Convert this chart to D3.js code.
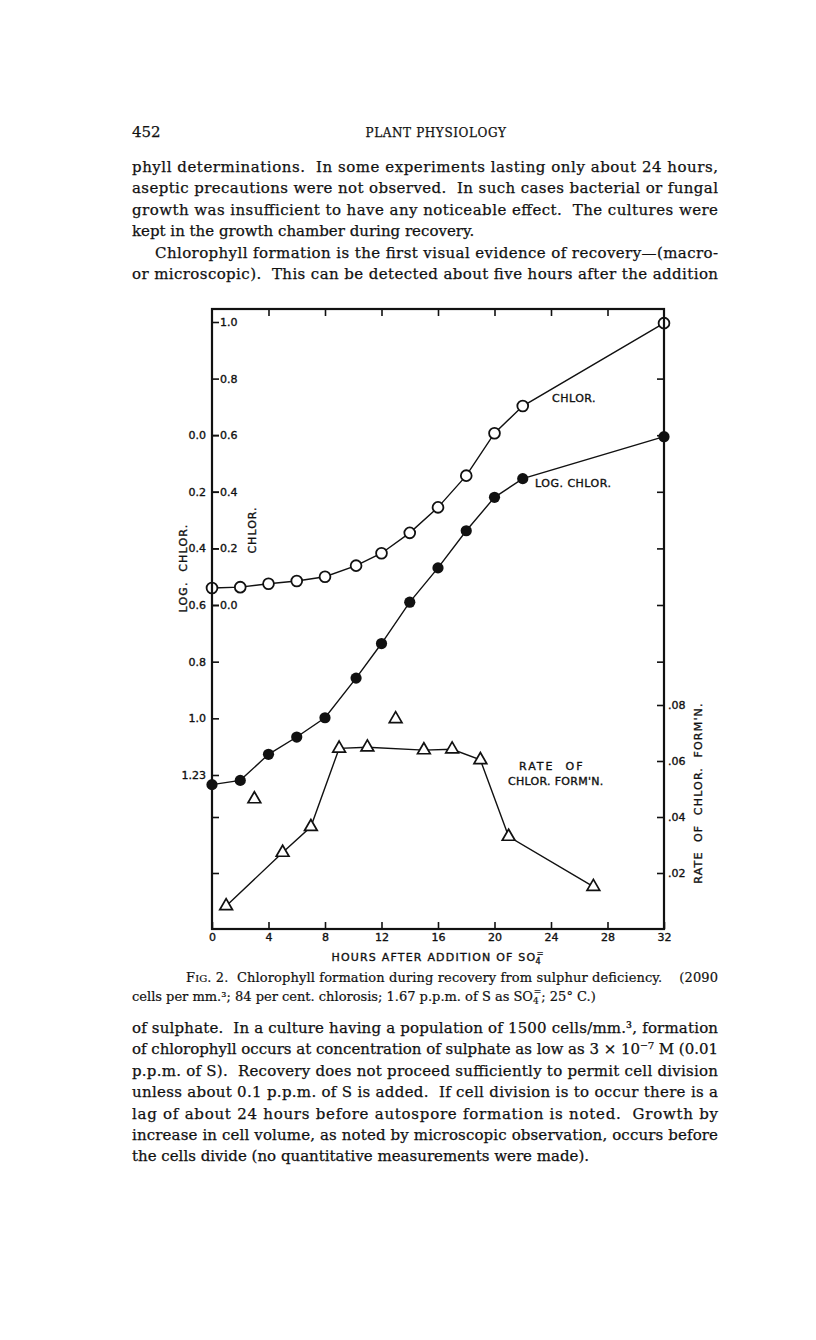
<!DOCTYPE html>
<html>
<head>
<meta charset="utf-8">
<script src="https://cdn.jsdelivr.net/npm/d3@7"></script>
<style>
  body { margin: 0; background: #fff; }
  svg text { fill: #111; }
  .page { font-family: "DejaVu Serif", serif; font-size: 15px; stroke: #111; stroke-width: 0.25px; }
  .cap { font-family: "DejaVu Serif", serif; font-size: 13px; stroke: #111; stroke-width: 0.2px; }
  .lab { font-family: "DejaVu Sans", sans-serif; font-size: 11px; stroke: #111; stroke-width: 0.35px; }
  .tick line { stroke: #111; stroke-width: 1.6; }
  .tick text { font-family: "DejaVu Sans", sans-serif; font-size: 11px; fill: #111; stroke: #111; stroke-width: 0.35px; }
</style>
</head>
<body>
<svg width="816" height="1340"></svg>
<script>
// readings
var hoursChl = [0, 2, 4, 6, 8, 10.2, 12, 14, 16, 18, 20, 22, 32];
var chlor    = [0.060, 0.063, 0.075, 0.085, 0.100, 0.139, 0.183, 0.255, 0.345, 0.457, 0.607, 0.703, 0.996];
var logChlor = [1.234, 1.219, 1.127, 1.066, 0.998, 0.858, 0.736, 0.590, 0.469, 0.338, 0.220, 0.154, 0.006];

var hoursRate = [1, 5, 7, 9, 11, 15, 17, 19, 21, 27];
var rate      = [0.0082, 0.0273, 0.0365, 0.0645, 0.0649, 0.0639, 0.0642, 0.0604, 0.0330, 0.0151];
// two triangles that are not on the line
var hoursOdd = [3, 13];
var rateOdd  = [0.0464, 0.0750];

var hourTicks = [0, 4, 8, 12, 16, 20, 24, 28, 32];
var chlTicks  = [0, 0.2, 0.4, 0.6, 0.8, 1.0];
var chlLabels = ["0.0", "0.2", "0.4", "0.6", "0.8", "1.0"];
var logTicks  = [0, 0.2, 0.4, 0.6, 0.8, 1.0, 1.2];
var logLabels = ["0.0", "0.2", "0.4", "0.6", "0.8", "1.0", "1.23"];
var rateTicks  = [0.02, 0.04, 0.06, 0.08];
var rateLabels = [".02", ".04", ".06", ".08"];

var topLines = [
  { t: "phyll determinations.  In some experiments lasting only about 24 hours,", j: true },
  { t: "aseptic precautions were not observed.  In such cases bacterial or fungal", j: true },
  { t: "growth was insufficient to have any noticeable effect.  The cultures were", j: true },
  { t: "kept in the growth chamber during recovery.", j: false },
  { t: "Chlorophyll formation is the first visual evidence of recovery—(macro-", j: true, ind: 23 },
  { t: "or microscopic).  This can be detected about five hours after the addition", j: true }
];
var bottomLines = [
  { t: "of sulphate.  In a culture having a population of 1500 cells/mm.³, formation", j: true },
  { t: "of chlorophyll occurs at concentration of sulphate as low as 3 × 10⁻⁷ M (0.01", j: true },
  { t: "p.p.m. of S).  Recovery does not proceed sufficiently to permit cell division", j: true },
  { t: "unless about 0.1 p.p.m. of S is added.  If cell division is to occur there is a", j: true },
  { t: "lag of about 24 hours before autospore formation is noted.  Growth by", j: true },
  { t: "increase in cell volume, as noted by microscopic observation, occurs before", j: true },
  { t: "the cells divide (no quantitative measurements were made).", j: false }
];

var svg = d3.select("svg");
var L = 132, R = 718;

// page head
svg.append("text").attr("class", "page").attr("x", L).attr("y", 137).text("452");
svg.append("text").attr("class", "page").attr("x", 436).attr("y", 137)
    .attr("text-anchor", "middle").style("font-size", "12px").style("letter-spacing", "0.6px")
    .text("PLANT PHYSIOLOGY");

function writeLines(lines, y0) {
  lines.forEach(function(d, i) {
    var x0 = L + (d.ind || 0);
    var t = svg.append("text").attr("class", "page")
        .attr("x", x0).attr("y", y0 + i * 21.4)
        .style("white-space", "pre").text(d.t);
    if (d.j) {
      t.attr("textLength", R - x0).attr("lengthAdjust", "spacing");
    }
  });
}
writeLines(topLines, 172);
writeLines(bottomLines, 1033);

// chart scales
var x = d3.scaleLinear().domain([0, 32]).range([212, 664]);
var yChl = d3.scaleLinear().domain([0, 1]).range([605, 322]);
var yLog = d3.scaleLinear().domain([0, 1.2]).range([435, 775]);
var yRate = d3.scaleLinear().domain([0, 0.08]).range([929, 705]);
var frameTop = 309, frameBot = 929, frameL = x(0), frameR = x(32);

function clean(g) { g.select(".domain").remove(); }

// bottom & top hour ticks
svg.append("g").attr("transform", "translate(0," + frameBot + ")")
    .call(d3.axisBottom(x).tickValues(hourTicks).tickSizeInner(-7).tickSizeOuter(0).tickPadding(4))
    .call(clean);
svg.append("g").attr("transform", "translate(0," + frameTop + ")")
    .call(d3.axisTop(x).tickValues(hourTicks.slice(1, -1)).tickSizeInner(-7).tickSizeOuter(0).tickFormat(""))
    .call(clean);

// left: chlor (inside) and log chlor (outside)
svg.append("g").attr("transform", "translate(" + frameL + ",0)")
    .call(d3.axisRight(yChl).tickValues(chlTicks).tickSizeInner(7).tickSizeOuter(0).tickPadding(1)
      .tickFormat(function(d, i) { return chlLabels[i]; }))
    .call(clean);
svg.append("g").attr("transform", "translate(" + frameL + ",0)")
    .call(d3.axisLeft(yLog).tickValues(logTicks).tickSizeInner(-7).tickSizeOuter(0).tickPadding(6)
      .tickFormat(function(d, i) { return logLabels[i]; }))
    .call(clean);
svg.append("g").attr("transform", "translate(" + frameL + ",0)")
    .call(d3.axisRight(yRate).tickValues([0.02, 0.04]).tickSizeInner(7).tickSizeOuter(0).tickFormat(""))
    .call(clean);

// right: rate of formation
svg.append("g").attr("transform", "translate(" + frameR + ",0)")
    .call(d3.axisRight(yRate).tickValues(rateTicks).tickSizeInner(-7).tickSizeOuter(0).tickPadding(4)
      .tickFormat(function(d, i) { return rateLabels[i]; }))
    .call(clean);
svg.append("g").attr("transform", "translate(" + frameR + ",0)")
    .call(d3.axisLeft(yChl).tickValues(chlTicks.slice(0, 5)).tickSizeInner(7).tickSizeOuter(0).tickFormat(""))
    .call(clean);
svg.append("g").attr("transform", "translate(" + frameR + ",0)")
    .call(d3.axisLeft(yLog).tickValues([0.8]).tickSizeInner(7).tickSizeOuter(0).tickFormat(""))
    .call(clean);

// lines
var chlPts = hoursChl.map(function(h, i) { return [x(h), yChl(chlor[i])]; });
var logPts = hoursChl.map(function(h, i) { return [x(h), yLog(logChlor[i])]; });
var ratePts = hoursRate.map(function(h, i) { return [x(h), yRate(rate[i])]; });
var line = d3.line();

[chlPts, logPts, ratePts].forEach(function(p) {
  svg.append("path").attr("d", line(p))
      .attr("fill", "none").attr("stroke", "#111").attr("stroke-width", 1.4);
});

// markers
svg.selectAll(".open").data(chlPts).enter().append("circle")
    .attr("cx", function(d) { return d[0]; }).attr("cy", function(d) { return d[1]; })
    .attr("r", 5.4).attr("fill", "#fff").attr("stroke", "#111").attr("stroke-width", 1.8);
svg.selectAll(".full").data(logPts).enter().append("circle")
    .attr("cx", function(d) { return d[0]; }).attr("cy", function(d) { return d[1]; })
    .attr("r", 5.6).attr("fill", "#111");

var tri = d3.symbol().type(d3.symbolTriangle).size(70);
var oddPts = hoursOdd.map(function(h, i) { return [x(h), yRate(rateOdd[i])]; });
svg.selectAll(".tri").data(ratePts.concat(oddPts)).enter().append("path")
    .attr("d", tri)
    .attr("transform", function(d) { return "translate(" + d[0] + "," + d[1] + ")"; })
    .attr("fill", "#fff").attr("stroke", "#111").attr("stroke-width", 1.7);

// frame
svg.append("rect").attr("x", frameL).attr("y", frameTop)
    .attr("width", frameR - frameL).attr("height", frameBot - frameTop)
    .attr("fill", "none").attr("stroke", "#111").attr("stroke-width", 2.2);

// labels inside the plot
function lab(txt, px, py, opts) {
  var t = svg.append("text").attr("class", "lab").attr("x", px).attr("y", py).text(txt);
  if (opts && opts.ls) t.style("letter-spacing", opts.ls + "px");
  if (opts && opts.rot) t.attr("text-anchor", "middle")
      .attr("transform", "rotate(-90," + px + "," + py + ")");
  return t;
}
lab("CHLOR.", 552, 402, { ls: 0.5 });
lab("LOG. CHLOR.", 535, 487, { ls: 0.5 });
lab("RATE  OF", 519, 770, { ls: 2 }).style("white-space", "pre");
lab("CHLOR. FORM'N.", 508, 785, { ls: 0.3 });

lab("LOG.  CHLOR.", 187, 568, { ls: 1.2, rot: true }).style("white-space", "pre");
lab("CHLOR.", 256, 530, { ls: 1, rot: true });
lab("RATE  OF  CHLOR.  FORM'N.", 702, 793, { ls: 1.2, rot: true }).style("white-space", "pre");

// x axis title
var xt = svg.append("text").attr("class", "lab").attr("x", 438).attr("y", 961)
    .attr("text-anchor", "middle").style("letter-spacing", "1.2px");
xt.append("tspan").text("HOURS AFTER ADDITION OF SO");
xt.append("tspan").attr("dx", -1).attr("dy", 3).style("font-size", "8px").text("4");
xt.append("tspan").attr("dx", -5).attr("dy", -8).style("font-size", "8px").text("=");

// caption
var c1 = svg.append("text").attr("class", "cap").attr("x", 186).attr("y", 982)
    .attr("textLength", R - 186).attr("lengthAdjust", "spacing")
    .style("white-space", "pre");
c1.append("tspan").text("F");
c1.append("tspan").style("font-size", "10px").text("IG");
c1.append("tspan").text(". 2.  Chlorophyll formation during recovery from sulphur deficiency.    (2090");
var c2 = svg.append("text").attr("class", "cap").attr("x", L).attr("y", 1001);
c2.append("tspan").text("cells per mm.³; 84 per cent. chlorosis; 1.67 p.p.m. of S as SO");
c2.append("tspan").attr("dy", 3).style("font-size", "9px").text("4");
c2.append("tspan").attr("dx", -5).attr("dy", -9).style("font-size", "9px").text("=");
c2.append("tspan").attr("dy", 6).text("; 25° C.)");
</script>
</body>
</html>
